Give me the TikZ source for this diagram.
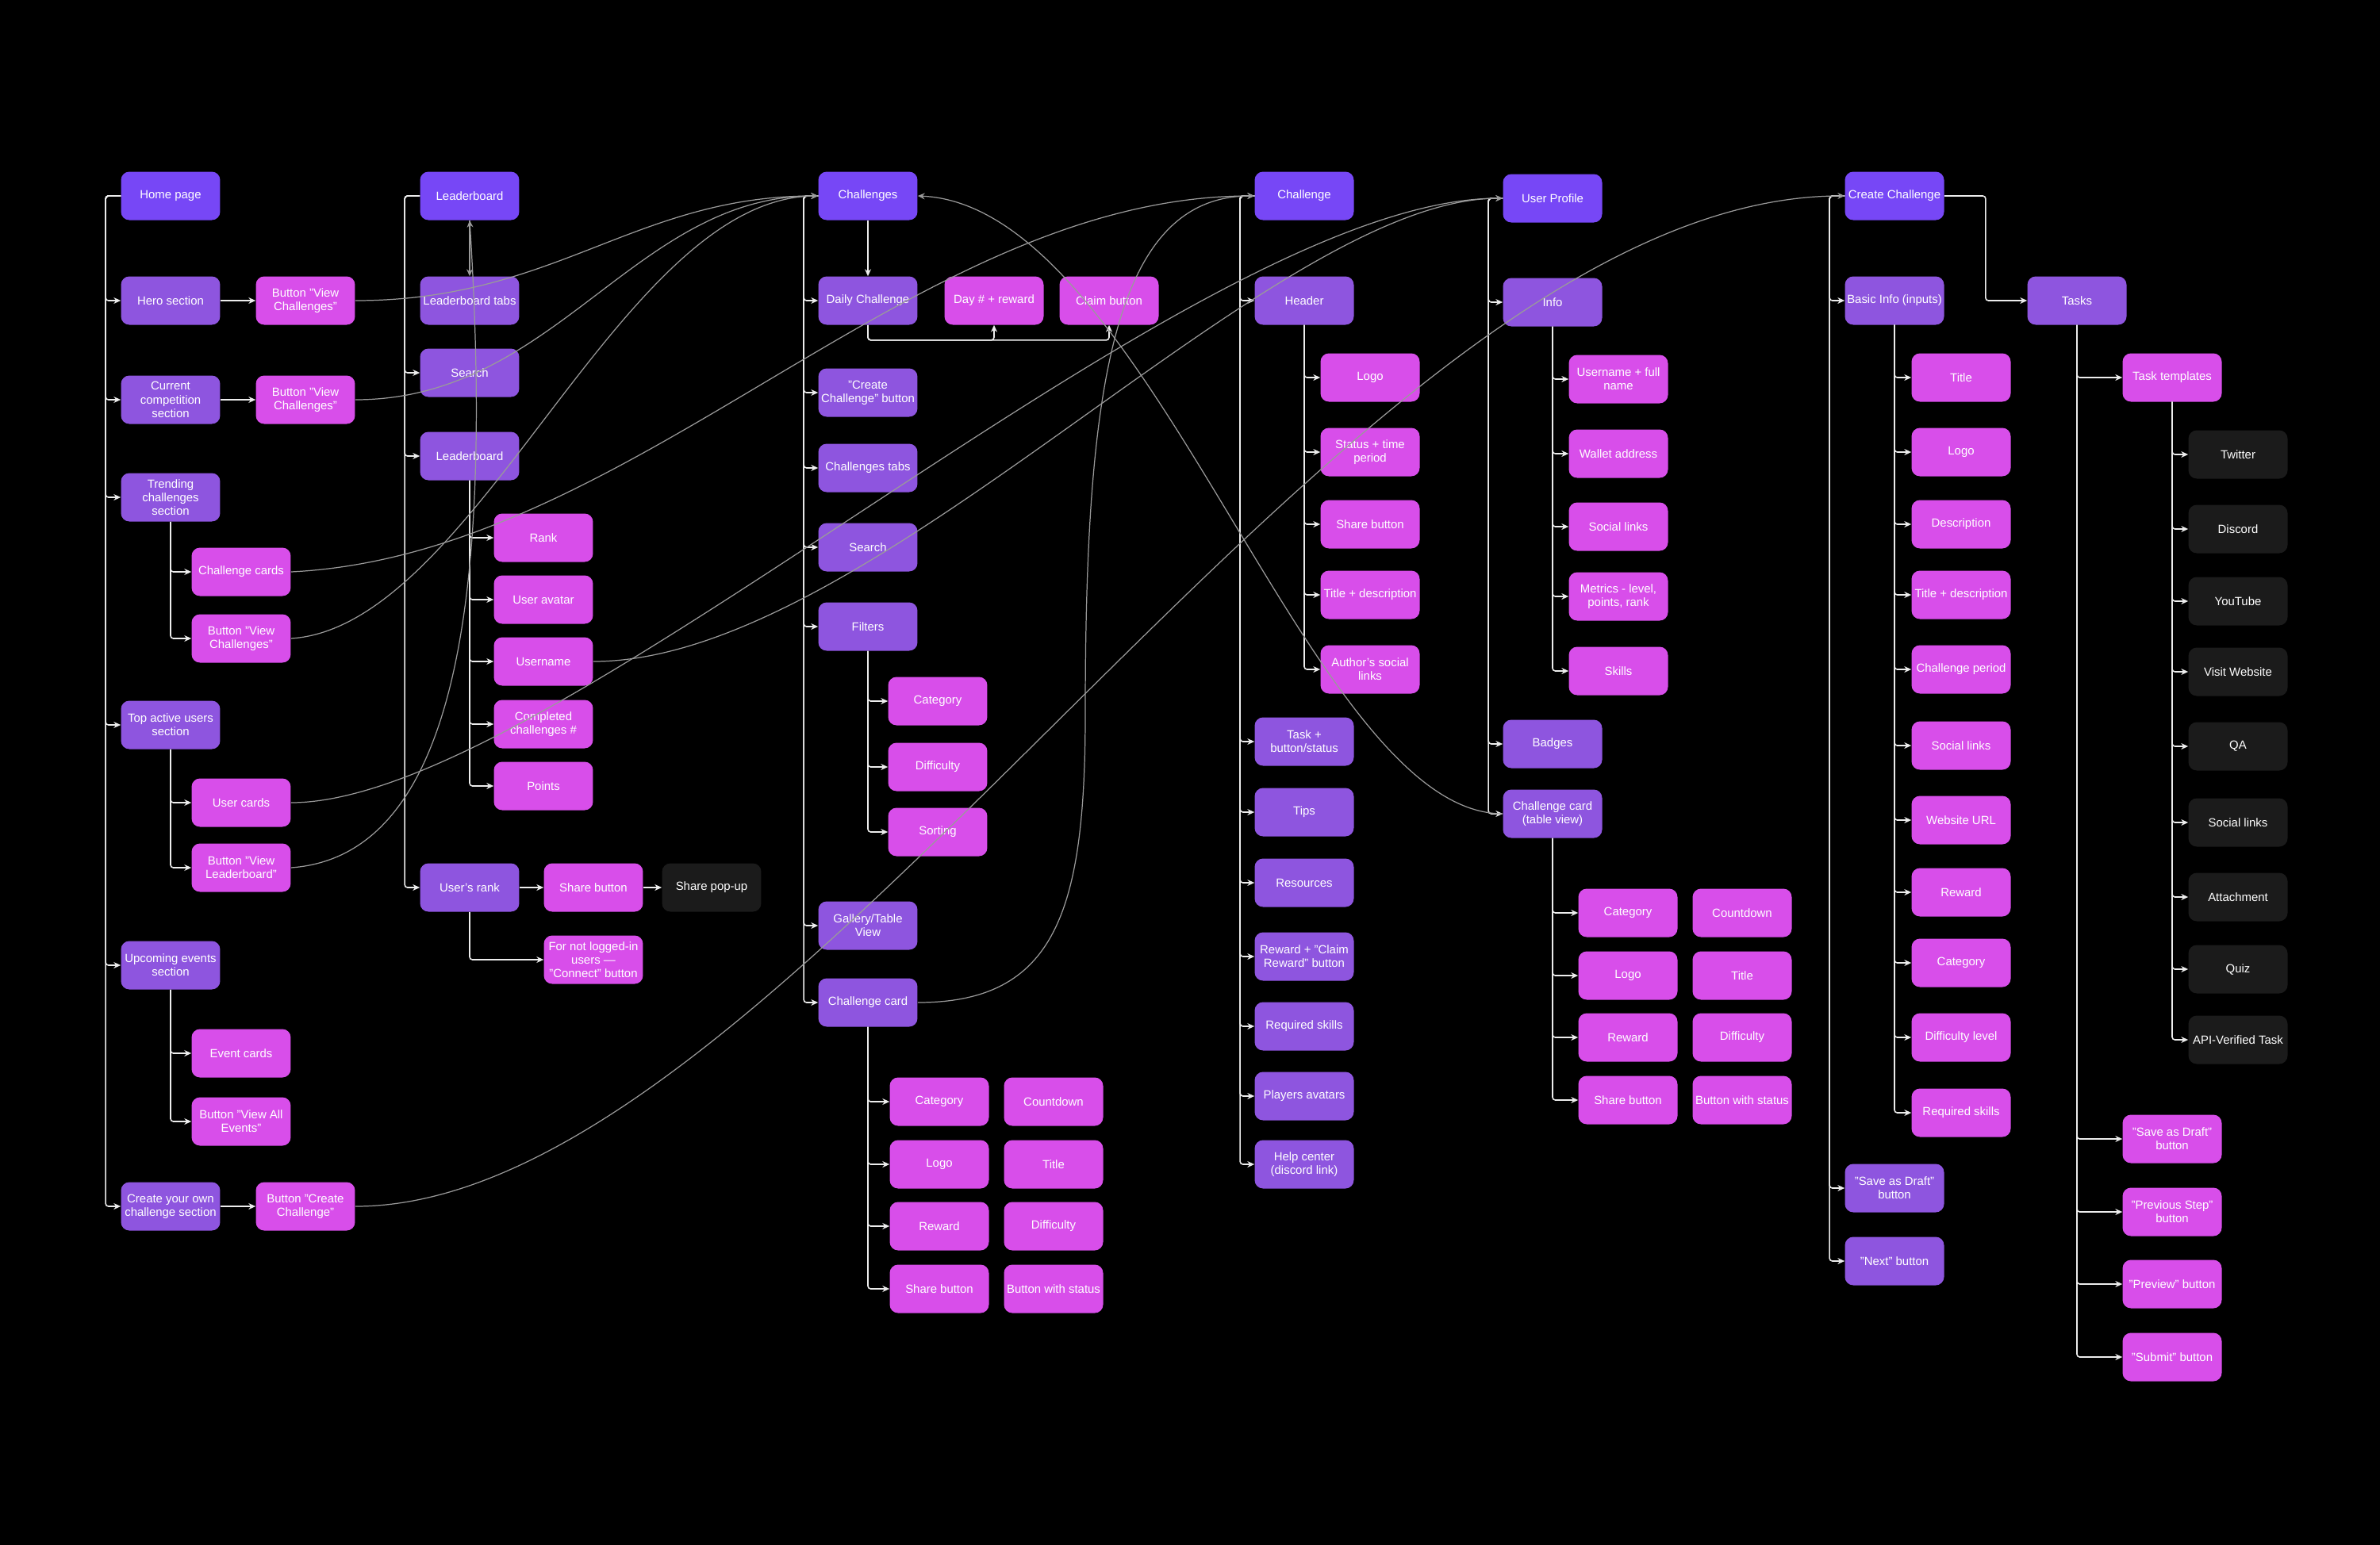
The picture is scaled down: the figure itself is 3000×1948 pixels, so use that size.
\documentclass[tikz,border=0pt]{standalone}
\usepackage{fontspec}
\setmainfont{Liberation Sans}
\usepackage{tikz}
\usetikzlibrary{arrows.meta}
\definecolor{pagecol}{HTML}{7747F6}
\definecolor{sectcol}{HTML}{8E55DF}
\definecolor{itemcol}{HTML}{D84EEA}
\definecolor{popcol}{HTML}{1B1B1B}
\definecolor{treecol}{HTML}{EDEDED}
\definecolor{linkcol}{HTML}{9A9A9A}

\begin{document}
\begin{tikzpicture}[x=0.02cm, y=-0.02cm, >={Stealth[length=5pt,width=4.5pt]},
    basebox/.style={rounded corners=6pt, minimum width=2.5cm, minimum height=1.22cm, inner sep=1pt, align=center, text=white, font=\fontsize{8.5}{9.8}\selectfont},
    pagebox/.style={basebox, fill=pagecol},
    sectbox/.style={basebox, fill=sectcol},
    itembox/.style={basebox, fill=itemcol},
    popbox/.style={basebox, fill=popcol},
    treeline/.style={->, draw=treecol, line width=0.9pt, rounded corners=2pt},
    xlink/.style={->, draw=linkcol, line width=0.7pt}]

    \fill[black] (0,0) rectangle (3000,1948);

    % home page
    \node[pagebox] (home) at (215,247) {Home page};
    \node[sectbox] (hero) at (215,379) {Hero section};
    \node[sectbox] (curcomp) at (215,504) {Current\\competition\\section};
    \node[sectbox] (trend) at (215,627) {Trending\\challenges\\section};
    \node[sectbox] (topusers) at (215,914) {Top active users\\section};
    \node[sectbox] (events) at (215,1217) {Upcoming events\\section};
    \node[sectbox] (owncc) at (215,1521) {Create your own\\challenge section};
    \node[itembox] (btnhero) at (385,379) {Button "View\\Challenges"};
    \node[itembox] (btncomp) at (385,504) {Button "View\\Challenges"};
    \node[itembox] (btncc) at (385,1521) {Button "Create\\Challenge"};
    \node[itembox] (ccards) at (304,721) {Challenge cards};
    \node[itembox] (btntr) at (304,805) {Button "View\\Challenges"};
    \node[itembox] (ucards) at (304,1012) {User cards};
    \node[itembox] (btnlb) at (304,1094) {Button "View\\Leaderboard"};
    \node[itembox] (ecards) at (304,1328) {Event cards};
    \node[itembox] (btnev) at (304,1414) {Button "View All\\Events"};

    % leaderboard
    \node[pagebox] (lb) at (592,247) {Leaderboard};
    \node[sectbox] (lbtabs) at (592,379) {Leaderboard tabs};
    \node[sectbox] (lbsearch) at (592,470) {Search};
    \node[sectbox] (lbboard) at (592,575) {Leaderboard};
    \node[sectbox] (urank) at (592,1119) {User's rank};
    \node[itembox] (rank) at (685,678) {Rank};
    \node[itembox] (avatar) at (685,756) {User avatar};
    \node[itembox] (uname) at (685,834) {Username};
    \node[itembox] (completed) at (685,913) {Completed\\challenges \#};
    \node[itembox] (points) at (685,991) {Points};
    \node[itembox] (sharebtn) at (748,1119) {Share button};
    \node[popbox] (popup) at (897,1119) {Share pop-up};
    \node[itembox] (notlogged) at (748,1210) {For not logged-in\\users —\\"Connect" button};

    % challenges
    \node[pagebox] (chs) at (1094,247) {Challenges};
    \node[sectbox] (daily) at (1094,379) {Daily Challenge};
    \node[sectbox] (ccbtn) at (1094,495) {"Create\\Challenge" button};
    \node[sectbox] (chtabs) at (1094,590) {Challenges tabs};
    \node[sectbox] (chsearch) at (1094,690) {Search};
    \node[sectbox] (filters) at (1094,790) {Filters};
    \node[sectbox] (gallery) at (1094,1167) {Gallery/Table\\View};
    \node[sectbox] (card) at (1094,1264) {Challenge card};
    \node[itembox] (day) at (1253,379) {Day \# + reward};
    \node[itembox] (claim) at (1398,379) {Claim button};
    \node[itembox] (fcat) at (1182,884) {Category};
    \node[itembox] (fdiff) at (1182,967) {Difficulty};
    \node[itembox] (fsort) at (1182,1049) {Sorting};
    \node[itembox] (ccat) at (1184,1389) {Category};
    \node[itembox] (clogo) at (1184,1468) {Logo};
    \node[itembox] (creward) at (1184,1546) {Reward};
    \node[itembox] (cshare) at (1184,1625) {Share button};
    \node[itembox] (ccount) at (1328,1389) {Countdown};
    \node[itembox] (ctitle) at (1328,1468) {Title};
    \node[itembox] (cdiff) at (1328,1546) {Difficulty};
    \node[itembox] (cbtn) at (1328,1625) {Button with status};

    % challenge
    \node[pagebox] (ch) at (1644,247) {Challenge};
    \node[sectbox] (header) at (1644,379) {Header};
    \node[sectbox] (task) at (1644,935) {Task +\\button/status};
    \node[sectbox] (tips) at (1644,1024) {Tips};
    \node[sectbox] (res) at (1644,1113) {Resources};
    \node[sectbox] (claimrw) at (1644,1206) {Reward + "Claim\\Reward" button};
    \node[sectbox] (reqsk) at (1644,1294) {Required skills};
    \node[sectbox] (players) at (1644,1382) {Players avatars};
    \node[sectbox] (help) at (1644,1468) {Help center\\(discord link)};
    \node[itembox] (hlogo) at (1727,476) {Logo};
    \node[itembox] (hstatus) at (1727,570) {Status + time\\period};
    \node[itembox] (hshare) at (1727,661) {Share button};
    \node[itembox] (htitle) at (1727,750) {Title + description};
    \node[itembox] (hauthor) at (1727,844) {Author's social\\links};

    % user profile
    \node[pagebox] (up) at (1957,250) {User Profile};
    \node[sectbox] (info) at (1957,381) {Info};
    \node[sectbox] (badges) at (1957,938) {Badges};
    \node[sectbox] (ctv) at (1957,1026) {Challenge card\\(table view)};
    \node[itembox] (iname) at (2040,478) {Username + full\\name};
    \node[itembox] (wallet) at (2040,572) {Wallet address};
    \node[itembox] (isocial) at (2040,664) {Social links};
    \node[itembox] (metrics) at (2040,752) {Metrics - level,\\points, rank};
    \node[itembox] (skills) at (2040,846) {Skills};
    \node[itembox] (tcat) at (2052,1151) {Category};
    \node[itembox] (tlogo) at (2052,1230) {Logo};
    \node[itembox] (treward) at (2052,1308) {Reward};
    \node[itembox] (tshare) at (2052,1387) {Share button};
    \node[itembox] (tcount) at (2196,1151) {Countdown};
    \node[itembox] (ttitle) at (2196,1230) {Title};
    \node[itembox] (tdiff) at (2196,1308) {Difficulty};
    \node[itembox] (tbtn) at (2196,1387) {Button with status};

    % create challenge
    \node[pagebox] (cc) at (2388,247) {Create Challenge};
    \node[sectbox] (basic) at (2388,379) {Basic Info (inputs)};
    \node[sectbox] (draft) at (2388,1498) {"Save as Draft"\\button};
    \node[sectbox] (next) at (2388,1590) {"Next" button};
    \node[itembox] (btitle) at (2472,476) {Title};
    \node[itembox] (blogo) at (2472,570) {Logo};
    \node[itembox] (bdesc) at (2472,661) {Description};
    \node[itembox] (btd) at (2472,750) {Title + description};
    \node[itembox] (bperiod) at (2472,844) {Challenge period};
    \node[itembox] (bsocial) at (2472,940) {Social links};
    \node[itembox] (burl) at (2472,1034) {Website URL};
    \node[itembox] (breward) at (2472,1125) {Reward};
    \node[itembox] (bcat) at (2472,1214) {Category};
    \node[itembox] (bdiff) at (2472,1308) {Difficulty level};
    \node[itembox] (bskills) at (2472,1403) {Required skills};
    \node[sectbox] (tasks) at (2618,379) {Tasks};
    \node[itembox] (templates) at (2738,476) {Task templates};
    \node[itembox] (tdraft) at (2738,1436) {"Save as Draft"\\button};
    \node[itembox] (tprev) at (2738,1528) {"Previous Step"\\button};
    \node[itembox] (tpreview) at (2738,1619) {"Preview" button};
    \node[itembox] (tsubmit) at (2738,1711) {"Submit" button};
    \node[popbox] (twitter) at (2821,573) {Twitter};
    \node[popbox] (discord) at (2821,667) {Discord};
    \node[popbox] (youtube) at (2821,758) {YouTube};
    \node[popbox] (visit) at (2821,847) {Visit Website};
    \node[popbox] (qa) at (2821,941) {QA};
    \node[popbox] (tsocial) at (2821,1037) {Social links};
    \node[popbox] (attach) at (2821,1131) {Attachment};
    \node[popbox] (quiz) at (2821,1222) {Quiz};
    \node[popbox] (api) at (2821,1311) {API-Verified Task};

    % tree connectors
    \draw[treeline] (home.west) -- ++(-19,0) |- (hero.west);
    \draw[treeline] (home.west) -- ++(-19,0) |- (curcomp.west);
    \draw[treeline] (home.west) -- ++(-19,0) |- (trend.west);
    \draw[treeline] (home.west) -- ++(-19,0) |- (topusers.west);
    \draw[treeline] (home.west) -- ++(-19,0) |- (events.west);
    \draw[treeline] (home.west) -- ++(-19,0) |- (owncc.west);
    \draw[treeline] (hero) -- (btnhero);
    \draw[treeline] (curcomp) -- (btncomp);
    \draw[treeline] (owncc) -- (btncc);
    \draw[treeline] (trend.south) |- (ccards.west);
    \draw[treeline] (trend.south) |- (btntr.west);
    \draw[treeline] (topusers.south) |- (ucards.west);
    \draw[treeline] (topusers.south) |- (btnlb.west);
    \draw[treeline] (events.south) |- (ecards.west);
    \draw[treeline] (events.south) |- (btnev.west);

    \draw[treeline] (lb.west) -- ++(-19,0) |- (lbsearch.west);
    \draw[treeline] (lb.west) -- ++(-19,0) |- (lbboard.west);
    \draw[treeline] (lb.west) -- ++(-19,0) |- (urank.west);
    \draw[treeline] (lbboard.south) |- (rank.west);
    \draw[treeline] (lbboard.south) |- (avatar.west);
    \draw[treeline] (lbboard.south) |- (uname.west);
    \draw[treeline] (lbboard.south) |- (completed.west);
    \draw[treeline] (lbboard.south) |- (points.west);
    \draw[treeline] (urank) -- (sharebtn);
    \draw[treeline] (sharebtn) -- (popup);
    \draw[treeline] (urank.south) |- (notlogged.west);

    \draw[treeline] (chs) -- (daily);
    \draw[treeline] (chs.west) -- ++(-18,0) |- (daily.west);
    \draw[treeline] (chs.west) -- ++(-18,0) |- (ccbtn.west);
    \draw[treeline] (chs.west) -- ++(-18,0) |- (chtabs.west);
    \draw[treeline] (chs.west) -- ++(-18,0) |- (chsearch.west);
    \draw[treeline] (chs.west) -- ++(-18,0) |- (filters.west);
    \draw[treeline] (chs.west) -- ++(-18,0) |- (gallery.west);
    \draw[treeline] (chs.west) -- ++(-18,0) |- (card.west);
    \draw[treeline] (daily.south) -- ++(0,19) -| (day.south);
    \draw[treeline] (daily.south) -- ++(0,19) -| (claim.south);
    \draw[treeline] (filters.south) |- (fcat.west);
    \draw[treeline] (filters.south) |- (fdiff.west);
    \draw[treeline] (filters.south) |- (fsort.west);
    \draw[treeline] (card.south) |- (ccat.west);
    \draw[treeline] (card.south) |- (clogo.west);
    \draw[treeline] (card.south) |- (creward.west);
    \draw[treeline] (card.south) |- (cshare.west);

    \draw[treeline] (ch.west) -- ++(-18,0) |- (header.west);
    \draw[treeline] (ch.west) -- ++(-18,0) |- (task.west);
    \draw[treeline] (ch.west) -- ++(-18,0) |- (tips.west);
    \draw[treeline] (ch.west) -- ++(-18,0) |- (res.west);
    \draw[treeline] (ch.west) -- ++(-18,0) |- (claimrw.west);
    \draw[treeline] (ch.west) -- ++(-18,0) |- (reqsk.west);
    \draw[treeline] (ch.west) -- ++(-18,0) |- (players.west);
    \draw[treeline] (ch.west) -- ++(-18,0) |- (help.west);
    \draw[treeline] (header.south) |- (hlogo.west);
    \draw[treeline] (header.south) |- (hstatus.west);
    \draw[treeline] (header.south) |- (hshare.west);
    \draw[treeline] (header.south) |- (htitle.west);
    \draw[treeline] (header.south) |- (hauthor.west);

    \draw[treeline] (up.west) -- ++(-18,0) |- (info.west);
    \draw[treeline] (up.west) -- ++(-18,0) |- (badges.west);
    \draw[treeline] (up.west) -- ++(-18,0) |- (ctv.west);
    \draw[treeline] (info.south) |- (iname.west);
    \draw[treeline] (info.south) |- (wallet.west);
    \draw[treeline] (info.south) |- (isocial.west);
    \draw[treeline] (info.south) |- (metrics.west);
    \draw[treeline] (info.south) |- (skills.west);
    \draw[treeline] (ctv.south) |- (tcat.west);
    \draw[treeline] (ctv.south) |- (tlogo.west);
    \draw[treeline] (ctv.south) |- (treward.west);
    \draw[treeline] (ctv.south) |- (tshare.west);

    \draw[treeline] (cc.west) -- ++(-19,0) |- (basic.west);
    \draw[treeline] (cc.west) -- ++(-19,0) |- (draft.west);
    \draw[treeline] (cc.west) -- ++(-19,0) |- (next.west);
    \draw[treeline] (cc.east) -- ++(52,0) |- (tasks.west);
    \draw[treeline] (basic.south) |- (btitle.west);
    \draw[treeline] (basic.south) |- (blogo.west);
    \draw[treeline] (basic.south) |- (bdesc.west);
    \draw[treeline] (basic.south) |- (btd.west);
    \draw[treeline] (basic.south) |- (bperiod.west);
    \draw[treeline] (basic.south) |- (bsocial.west);
    \draw[treeline] (basic.south) |- (burl.west);
    \draw[treeline] (basic.south) |- (breward.west);
    \draw[treeline] (basic.south) |- (bcat.west);
    \draw[treeline] (basic.south) |- (bdiff.west);
    \draw[treeline] (basic.south) |- (bskills.west);
    \draw[treeline] (tasks.south) |- (templates.west);
    \draw[treeline] (tasks.south) |- (tdraft.west);
    \draw[treeline] (tasks.south) |- (tprev.west);
    \draw[treeline] (tasks.south) |- (tpreview.west);
    \draw[treeline] (tasks.south) |- (tsubmit.west);
    \draw[treeline] (templates.south) |- (twitter.west);
    \draw[treeline] (templates.south) |- (discord.west);
    \draw[treeline] (templates.south) |- (youtube.west);
    \draw[treeline] (templates.south) |- (visit.west);
    \draw[treeline] (templates.south) |- (qa.west);
    \draw[treeline] (templates.south) |- (tsocial.west);
    \draw[treeline] (templates.south) |- (attach.west);
    \draw[treeline] (templates.south) |- (quiz.west);
    \draw[treeline] (templates.south) |- (api.west);

    % links between pages
    \draw[xlink] (lb) -- (lbtabs);
    \draw[xlink] (btnlb.east) .. controls (560,1080) and (625,800) .. (lb.south);
    \draw[xlink] (btnhero.east) .. controls (700,379) and (800,247) .. (chs.west);
    \draw[xlink] (btncomp.east) .. controls (700,504) and (800,247) .. (chs.west);
    \draw[xlink] (btntr.east) .. controls (600,790) and (780,250) .. (chs.west);
    \draw[xlink] (ccards.east) .. controls (800,700) and (1150,247) .. (ch.west);
    \draw[xlink] (card.east) .. controls (1330,1264) and (1368,1150) .. (1368,900) .. controls (1368,500) and (1400,247) .. (ch.west);
    \draw[xlink] (ctv.west) .. controls (1650,1026) and (1450,260) .. (chs.east);
    \draw[xlink] (ucards.east) .. controls (700,1012) and (1500,250) .. (up.west);
    \draw[xlink] (uname.east) .. controls (1100,834) and (1600,250) .. (up.west);
    \draw[xlink] (btncc.east) .. controls (1000,1521) and (1700,247) .. (cc.west);
\end{tikzpicture}
\end{document}
